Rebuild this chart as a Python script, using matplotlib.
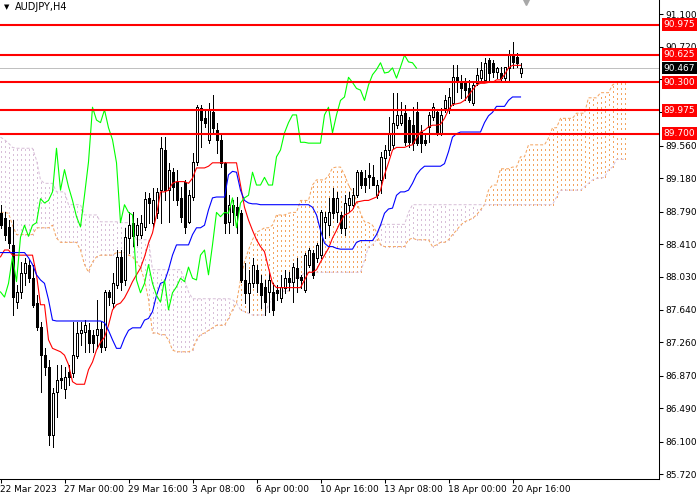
import matplotlib
matplotlib.use("Agg")
import matplotlib.pyplot as plt
import numpy as np
from matplotlib.transforms import blended_transform_factory

plt.rcParams["font.family"] = ["DejaVu Sans"]

# H4 candles, bar 0 = 22 Mar 2023 08:00
opens = [
    88.77, 88.71, 88.61, 88.40, 87.73, 87.85, 88.07, 88.17, 88.01, 87.72,
    87.44, 87.11, 86.97, 86.18, 86.68, 86.84, 86.71, 86.91, 86.90, 87.10,
    87.37, 87.38, 87.40, 87.35, 87.35, 87.42, 87.21, 87.85, 87.72, 87.93,
    88.26, 87.99, 88.48, 88.66, 88.52, 88.52, 88.61, 88.95, 88.66, 88.77,
    89.04, 89.51, 89.04, 89.25, 89.14, 88.95, 89.14, 88.67, 88.96, 89.37,
    90.00, 89.88, 89.63, 89.95, 89.74, 89.63, 89.36, 88.67, 88.87, 88.84,
    88.77, 87.99, 87.84, 87.95, 88.11, 87.95, 87.91, 87.85, 87.85, 87.87,
    87.78, 87.90, 88.01, 87.97, 88.13, 88.02, 87.87, 88.17, 88.31, 88.25,
    88.28, 88.67, 88.63, 88.95, 88.78, 88.75, 88.60, 88.87, 88.87, 88.98,
    89.25, 89.18, 89.22, 89.19, 88.98, 89.16, 89.42, 89.51, 89.57, 89.80,
    89.83, 89.94, 89.86, 89.80, 89.95, 89.72, 89.63, 89.78, 89.90, 89.95,
    89.71, 90.00, 89.98, 90.06, 90.36, 90.30, 90.29, 90.23, 90.06, 90.29,
    90.35, 90.33, 90.56, 90.53, 90.42, 90.41, 90.35, 90.47, 90.62, 90.60,
    90.41,
]
highs = [
    88.87, 88.78, 88.69, 88.69, 87.93, 88.20, 88.25, 88.22, 88.17, 87.81,
    87.50, 87.19, 87.05, 86.73, 87.00, 87.00, 86.97, 87.00, 87.50, 87.50,
    87.50, 87.52, 87.49, 87.40, 87.76, 87.50, 87.87, 87.87, 88.07, 88.34,
    88.34, 88.60, 88.78, 88.78, 88.71, 88.75, 89.02, 89.01, 89.06, 89.06,
    89.66, 89.66, 89.36, 89.30, 89.28, 89.08, 89.16, 89.04, 89.47, 90.04,
    90.04, 89.98, 90.06, 90.15, 89.83, 89.71, 89.37, 88.98, 88.92, 88.96,
    88.81, 88.19, 88.11, 88.25, 88.17, 88.05, 87.99, 88.08, 87.95, 87.93,
    88.05, 88.11, 88.08, 88.19, 88.25, 88.05, 88.31, 88.36, 88.34, 88.42,
    88.81, 88.78, 88.95, 89.06, 89.02, 88.78, 88.98, 89.02, 89.06, 89.28,
    89.28, 89.28, 89.36, 89.33, 89.16, 89.49, 89.57, 89.90, 90.18, 90.18,
    90.07, 90.04, 89.90, 90.01, 90.07, 89.80, 89.69, 89.95, 90.06, 89.98,
    90.00, 90.15, 90.23, 90.50, 90.50, 90.39, 90.35, 90.33, 90.30, 90.47,
    90.54, 90.59, 90.59, 90.56, 90.48, 90.48, 90.48, 90.68, 90.77, 90.64,
    90.53,
]
lows = [
    88.60, 88.46, 88.36, 87.58, 87.66, 87.78, 87.93, 87.97, 87.67, 87.40,
    86.68, 86.88, 86.06, 86.04, 86.39, 86.73, 86.61, 86.76, 86.86, 87.08,
    87.23, 87.15, 87.15, 87.15, 87.19, 87.15, 87.17, 87.70, 87.66, 87.90,
    87.87, 87.93, 88.31, 88.39, 88.40, 88.48, 88.57, 88.66, 88.61, 88.71,
    88.66, 88.92, 88.67, 88.92, 88.87, 88.67, 88.54, 88.66, 88.92, 89.33,
    89.54, 89.78, 89.59, 89.71, 89.47, 89.31, 88.54, 88.54, 88.63, 88.54,
    87.97, 87.72, 87.62, 87.91, 87.85, 87.66, 87.58, 87.62, 87.58, 87.76,
    87.73, 87.84, 87.87, 87.73, 87.85, 87.90, 87.85, 88.14, 88.01, 88.20,
    88.25, 88.48, 88.52, 88.71, 88.67, 88.54, 88.52, 88.78, 88.83, 88.96,
    89.06, 89.02, 89.06, 89.10, 88.95, 89.01, 89.18, 89.45, 89.53, 89.77,
    89.80, 89.57, 89.54, 89.51, 89.57, 89.49, 89.57, 89.60, 89.86, 89.69,
    89.69, 89.95, 89.94, 90.04, 90.19, 90.12, 90.09, 90.07, 90.04, 90.27,
    90.30, 90.30, 90.30, 90.36, 90.35, 90.30, 90.30, 90.33, 90.47, 90.48,
    90.36,
]
closes = [
    88.63, 88.52, 88.42, 87.79, 87.85, 88.07, 88.19, 88.01, 87.70, 87.44,
    87.11, 86.97, 86.18, 86.67, 86.82, 86.82, 86.86, 86.86, 87.11, 87.37,
    87.40, 87.46, 87.25, 87.25, 87.42, 87.21, 87.85, 87.79, 87.95, 88.26,
    87.97, 88.49, 88.63, 88.50, 88.63, 88.66, 88.94, 88.89, 88.92, 89.02,
    89.53, 89.04, 89.28, 89.08, 88.92, 88.73, 88.61, 88.98, 89.37, 90.01,
    89.86, 89.83, 89.98, 89.77, 89.63, 89.36, 88.66, 88.87, 88.78, 88.75,
    87.99, 87.84, 87.95, 88.17, 87.95, 87.81, 87.73, 87.99, 87.64, 87.84,
    87.91, 88.01, 87.97, 88.14, 88.01, 87.99, 88.28, 88.34, 88.05, 88.40,
    88.78, 88.73, 88.78, 88.77, 88.95, 88.60, 88.89, 88.95, 88.98, 89.25,
    89.10, 89.10, 89.19, 89.10, 89.10, 89.43, 89.51, 89.71, 89.83, 89.92,
    89.92, 89.60, 89.60, 89.59, 89.59, 89.59, 89.59, 89.92, 90.01, 89.71,
    89.92, 90.09, 90.13, 90.36, 90.30, 90.23, 90.21, 90.09, 90.27, 90.39,
    90.45, 90.53, 90.41, 90.42, 90.47, 90.35, 90.48, 90.62, 90.54, 90.53,
    90.467,
]

# Ichimoku lines
tenkan = [
    88.26, 88.34, 88.34, 88.28, 88.28, 88.28, 88.28, 88.28, 88.28, 88.05,
    87.70, 87.70, 87.29, 87.19, 87.17, 87.15, 87.11, 87.00, 86.80, 86.77,
    86.77, 86.77, 86.94, 87.03, 87.17, 87.26, 87.32, 87.46, 87.64, 87.70,
    87.72, 87.78, 87.87, 87.97, 88.05, 88.13, 88.26, 88.42, 88.54, 88.75,
    89.02, 89.02, 89.04, 89.12, 89.14, 89.14, 89.14, 89.12, 89.18, 89.30,
    89.30, 89.30, 89.32, 89.36, 89.36, 89.36, 89.36, 89.36, 89.36, 89.36,
    89.10, 88.84, 88.69, 88.57, 88.46, 88.38, 88.32, 88.13, 87.95, 87.90,
    87.90, 87.90, 87.90, 87.90, 87.90, 87.90, 87.99, 88.08, 88.08, 88.11,
    88.20, 88.28, 88.36, 88.48, 88.57, 88.67, 88.75, 88.77, 88.81, 88.90,
    88.91, 88.92, 88.92, 88.94, 88.96, 89.04, 89.22, 89.36, 89.51, 89.54,
    89.54, 89.54, 89.56, 89.57, 89.65, 89.72, 89.74, 89.78, 89.80, 89.80,
    89.81, 89.88, 89.98, 90.04, 90.05, 90.06, 90.09, 90.15, 90.21, 90.27,
    90.29, 90.29, 90.30, 90.30, 90.33, 90.33, 90.39, 90.47, 90.50, 90.50,
    90.50,
]
kijun = [
    88.31, 88.31, 88.31, 88.31, 88.31, 88.31, 88.31, 88.25, 88.17, 88.05,
    87.99, 87.95, 87.76, 87.52, 87.51, 87.51, 87.51, 87.51, 87.51, 87.51,
    87.51, 87.51, 87.51, 87.51, 87.51, 87.51, 87.49, 87.40, 87.29, 87.19,
    87.19, 87.31, 87.40, 87.43, 87.43, 87.43, 87.52, 87.54, 87.62, 87.81,
    87.95, 87.97, 88.11, 88.28, 88.40, 88.40, 88.40, 88.40, 88.52, 88.60,
    88.60, 88.63, 88.81, 88.95, 88.96, 88.96, 88.96, 89.22, 89.26, 89.25,
    89.04, 88.92, 88.89, 88.88, 88.88, 88.87, 88.87, 88.87, 88.87, 88.87,
    88.87, 88.87, 88.87, 88.87, 88.87, 88.87, 88.87, 88.87, 88.84, 88.75,
    88.57, 88.42, 88.38, 88.38, 88.36, 88.35, 88.35, 88.35, 88.35, 88.43,
    88.45, 88.45, 88.45, 88.45, 88.52, 88.63, 88.77, 88.82, 88.83, 88.98,
    89.02, 89.02, 89.04, 89.12, 89.22, 89.28, 89.32, 89.32, 89.32, 89.32,
    89.32, 89.35, 89.49, 89.66, 89.70, 89.72, 89.72, 89.72, 89.72, 89.72,
    89.72, 89.83, 89.91, 89.95, 90.02, 90.02, 90.02, 90.09, 90.13, 90.13,
    90.13,
]
# Senkou spans already shifted 26 bars ahead (157 bars)
senkou_a = [
    88.78, 88.78, 88.77, 88.63, 88.52, 88.52, 88.52, 88.52, 88.52, 88.60,
    88.60, 88.60, 88.60, 88.63, 88.48, 88.43, 88.43, 88.43, 88.43, 88.43,
    88.34, 88.17, 88.08, 88.20, 88.26, 88.28, 88.28, 88.28, 88.28, 88.31,
    88.31, 88.31, 88.28, 88.26, 88.20, 88.13, 87.99, 87.76, 87.37, 87.37,
    87.35, 87.35, 87.29, 87.17, 87.15, 87.15, 87.15, 87.15, 87.17, 87.29,
    87.35, 87.37, 87.40, 87.43, 87.46, 87.46, 87.46, 87.54, 87.64, 87.72,
    87.99, 88.20, 88.34, 88.46, 88.55, 88.57, 88.60, 88.60, 88.63, 88.75,
    88.75, 88.75, 88.77, 88.78, 88.78, 88.92, 88.92, 88.92, 89.10, 89.16,
    89.16, 89.16, 89.21, 89.30, 89.31, 89.31, 89.22, 89.10, 89.02, 88.92,
    88.77, 88.67, 88.66, 88.63, 88.55, 88.40, 88.38, 88.38, 88.38, 88.38,
    88.38, 88.38, 88.46, 88.48, 88.46, 88.46, 88.46, 88.46, 88.38, 88.40,
    88.43, 88.43, 88.46, 88.52, 88.57, 88.63, 88.67, 88.69, 88.71, 88.75,
    88.81, 88.87, 89.04, 89.10, 89.10, 89.29, 89.29, 89.29, 89.31, 89.31,
    89.43, 89.43, 89.57, 89.57, 89.57, 89.57, 89.57, 89.65, 89.77, 89.77,
    89.88, 89.88, 89.88, 89.88, 89.94, 89.94, 89.94, 90.12, 90.12, 90.12,
    90.18, 90.18, 90.18, 90.27, 90.30, 90.30, 90.30,
]
senkou_b = [
    89.66, 89.63, 89.59, 89.54, 89.53, 89.53, 89.53, 89.53, 89.53, 89.39,
    89.16, 89.12, 89.12, 89.12, 89.02, 89.02, 89.02, 88.87, 88.87, 88.87,
    88.87, 88.75, 88.75, 88.75, 88.75, 88.67, 88.67, 88.67, 88.67, 88.67,
    88.66, 88.66, 88.66, 88.60, 88.46, 88.46, 88.46, 88.46, 88.11, 88.11,
    88.11, 88.11, 88.11, 88.11, 88.11, 88.11, 87.99, 87.85, 87.77, 87.77,
    87.77, 87.77, 87.77, 87.77, 87.77, 87.77, 87.77, 87.77, 87.76, 87.72,
    87.64, 87.62, 87.60, 87.58, 87.58, 87.58, 87.58, 87.70, 87.78, 87.86,
    87.86, 87.86, 87.86, 87.99, 88.02, 88.02, 88.08, 88.08, 88.08, 88.08,
    88.08, 88.08, 88.08, 88.08, 88.08, 88.08, 88.08, 88.08, 88.08, 88.08,
    88.08, 88.22, 88.38, 88.40, 88.46, 88.64, 88.64, 88.64, 88.64, 88.64,
    88.64, 88.64, 88.78, 88.87, 88.87, 88.87, 88.87, 88.87, 88.87, 88.87,
    88.87, 88.87, 88.87, 88.87, 88.87, 88.87, 88.87, 88.87, 88.87, 88.87,
    88.87, 88.87, 88.87, 88.87, 88.87, 88.87, 88.87, 88.87, 88.87, 88.87,
    88.87, 88.87, 88.87, 88.87, 88.87, 88.87, 88.87, 88.87, 88.87, 88.96,
    89.04, 89.04, 89.04, 89.04, 89.04, 89.04, 89.08, 89.12, 89.16, 89.18,
    89.18, 89.19, 89.28, 89.31, 89.40, 89.40, 89.40,
]
chikou_shift = 26

levels = [90.975, 90.625, 90.300, 89.975, 89.700]
last_price = 90.467

price_ticks = [91.100, 90.720, 90.340, 89.950, 89.560, 89.180, 88.790, 88.410,
               88.030, 87.640, 87.260, 86.870, 86.490, 86.100, 85.720]
# these two sit under the level boxes on the price scale
hidden_ticks = [90.340, 89.950]
time_tick_bars = [0, 16, 32, 48, 64, 80, 96, 112, 128]
time_tick_labels = ["22 Mar 2023", "27 Mar 00:00", "29 Mar 16:00", "3 Apr 08:00",
                    "6 Apr 00:00", "10 Apr 16:00", "13 Apr 08:00", "18 Apr 00:00",
                    "20 Apr 16:00"]

up_color = "#f4a460"    # sandy brown
down_color = "#d8bfd8"  # thistle
hatch_dots = (0, (2, 3))
edge_dots = (0, (3, 2))
px = 0.72  # one pixel in points

fig = plt.figure(figsize=(7, 5), dpi=100)
fig.patch.set_facecolor("white")
ax = fig.add_axes([0, 21 / 500, 659 / 700, 479 / 500])
ax.set_xlim(-0.125, 164.625)
ax.set_ylim(85.662, 91.264)

# kumo: one dotted vertical per bar, coloured by which span is on top
for j, (sa, sb) in enumerate(zip(senkou_a, senkou_b)):
    col = up_color if sa >= sb else down_color
    ax.plot([j, j], [min(sa, sb), max(sa, sb)], color=col, lw=px, ls=hatch_dots,
            antialiased=False, zorder=1)
span_x = np.arange(len(senkou_a))
ax.plot(span_x, senkou_a, color=up_color, lw=px, ls=edge_dots, zorder=1)
ax.plot(span_x, senkou_b, color=down_color, lw=px, ls=edge_dots, zorder=1)

ax.axhline(last_price, color="#c0c0c0", lw=px, antialiased=False, zorder=2)

# candles
o, h, l, c = (np.array(v) for v in (opens, highs, lows, closes))
idx = np.arange(len(o))
ax.vlines(idx, l, h, color="black", lw=px, antialiased=False, zorder=3)
bull = c >= o
ax.bar(idx[bull], (c - o)[bull], bottom=o[bull], width=0.5, color="white",
       edgecolor="black", linewidth=px, antialiased=False, zorder=4)
ax.bar(idx[~bull], (o - c)[~bull], bottom=c[~bull], width=0.5, color="black",
       edgecolor="black", linewidth=px, antialiased=False, zorder=4)

# tenkan, kijun, chikou
ax.plot(idx, tenkan, color="#ff0000", lw=0.8, zorder=5)
ax.plot(idx, kijun, color="#0000ff", lw=0.8, zorder=5)
ax.plot(idx[:len(c) - chikou_shift], c[chikou_shift:], color="#00ff00", lw=0.8, zorder=5)

for lvl in levels:
    ax.axhline(lvl, color="#ff0000", lw=1.5, zorder=6)

# axes look
for side in ("top", "left"):
    ax.spines[side].set_visible(False)
for side in ("right", "bottom"):
    ax.spines[side].set_linewidth(0.75)
    ax.spines[side].set_color("black")

ax.yaxis.tick_right()
ax.set_yticks(price_ticks)
ax.set_yticklabels(["" if v in hidden_ticks else f"{v:.3f}" for v in price_ticks])
ax.tick_params(axis="y", length=3, width=0.75, labelsize=6.5, pad=1.5)
ax.set_xticks(time_tick_bars)
ax.set_xticklabels(time_tick_labels, ha="left")
ax.tick_params(axis="x", length=3, width=0.75, labelsize=6.5, pad=1.5)

trans = blended_transform_factory(ax.transAxes, ax.transData)
for lvl in levels:
    ax.text(1.007, lvl, f"{lvl:.3f}", transform=trans, ha="left", va="center",
            fontsize=6.5, color="white", clip_on=False, zorder=10,
            bbox=dict(boxstyle="square,pad=0.2", fc="#ff0000", ec="none"))
ax.text(1.007, last_price, f"{last_price:.3f}", transform=trans, ha="left",
        va="center", fontsize=6.5, color="white", clip_on=False, zorder=10,
        bbox=dict(boxstyle="square,pad=0.2", fc="black", ec="none"))

# chart shift marker
top_trans = blended_transform_factory(ax.transData, ax.transAxes)
ax.plot([131.3], [0.995], marker="v", ms=5, color="#a8a8a8", transform=top_trans,
        clip_on=False, zorder=10)

fig.text(4 / 700, 1 - 7.5 / 500, "\u25bc", fontsize=5, va="center", ha="left")
fig.text(15 / 700, 1 - 7.5 / 500, "AUDJPY,H4", fontsize=7, va="center", ha="left")

fig.savefig("out.png", dpi=100, facecolor="white")
